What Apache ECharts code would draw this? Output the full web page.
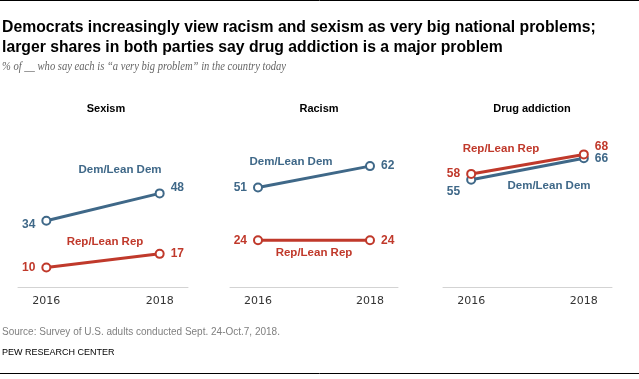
<!DOCTYPE html>
<html>
<head>
<meta charset="utf-8">
<script src="https://cdn.jsdelivr.net/npm/echarts@6/dist/echarts.min.js"></script>
<style>html,body{margin:0;padding:0;background:#fff}#c{width:639px;height:379px}</style>
</head>
<body>
<div id="c"></div>
<script>
const years = [2016, 2018];
const panelTitles = ['Sexism', 'Racism', 'Drug addiction'];
const demSexism = [34, 48];
const repSexism = [10, 17];
const demRacism = [51, 62];
const repRacism = [24, 24];
const demDrug = [55, 66];
const repDrug = [58, 68];
const demName = 'Dem/Lean Dem';
const repName = 'Rep/Lean Rep';

const DEM = '#3f6888';
const REP = '#c0392b';

const panels = [
  {dem: demSexism, rep: repSexism, demNudge: [[0, 4], [0, -6]], repNudge: [[0, 0], [0, 0]],
   demTxt: [120, 170], repTxt: [105, 242], grid: {left: 18, top: 92, width: 170, height: 195}, title: [106, 109]},
  {dem: demRacism, rep: repRacism, demNudge: [[0, 0], [0, 0]], repNudge: [[0, 0], [0, 0]],
   demTxt: [291, 162], repTxt: [314, 253], grid: {left: 230, top: 92, width: 168, height: 195}, title: [319, 109]},
  {dem: demDrug, rep: repDrug, demNudge: [[0, 12], [0, 0]], repNudge: [[0, 0], [0, -8]],
   demTxt: [549, 186], repTxt: [501, 149], grid: {left: 443, top: 92, width: 169, height: 195}, title: [532, 109]}
];

function mkSeries(vals, nudge, color, idx, name) {
  return {
    type: 'line', name: name, xAxisIndex: idx, yAxisIndex: idx,
    data: years.map((y, i) => ({
      value: [y, vals[i]],
      label: {position: i === 0 ? 'left' : 'right', offset: nudge[i]}
    })),
    symbol: 'emptyCircle', symbolSize: 8,
    lineStyle: {width: 3, color: color},
    itemStyle: {color: color, borderWidth: 2},
    label: {show: true, distance: 6, color: color, fontWeight: 'bold', fontSize: 12, fontFamily: 'Liberation Sans'},
    emphasis: {disabled: true}, silent: true, animation: false
  };
}

const series = [];
const graphics = [];
panels.forEach((p, i) => {
  series.push(mkSeries(p.dem, p.demNudge, DEM, i, demName));
  series.push(mkSeries(p.rep, p.repNudge, REP, i, repName));
  graphics.push({type: 'text', x: p.title[0], y: p.title[1], style: {text: panelTitles[i], fill: '#000', font: 'bold 11px "Liberation Sans"', textAlign: 'center', textVerticalAlign: 'middle', align: 'center', verticalAlign: 'middle'}});
  graphics.push({type: 'text', x: p.demTxt[0], y: p.demTxt[1], style: {text: demName, fill: DEM, font: 'bold 11.5px "Liberation Sans"', textAlign: 'center', textVerticalAlign: 'middle', align: 'center', verticalAlign: 'middle'}});
  graphics.push({type: 'text', x: p.repTxt[0], y: p.repTxt[1], style: {text: repName, fill: REP, font: 'bold 11.5px "Liberation Sans"', textAlign: 'center', textVerticalAlign: 'middle', align: 'center', verticalAlign: 'middle'}});
});

const txt = (text, x, y, font, fill, sx) => ({type: 'text', x: x, y: y, scaleX: sx || 1, style: {text: text, font: font, fill: fill, textAlign: 'left', textVerticalAlign: 'middle', align: 'left', verticalAlign: 'middle'}});
graphics.push({type: 'line', shape: {x1: 0, y1: 0.5, x2: 639, y2: 0.5}, style: {stroke: '#000', lineWidth: 1}});
graphics.push({type: 'line', shape: {x1: 0, y1: 373.5, x2: 639, y2: 373.5}, style: {stroke: '#000', lineWidth: 1}});
graphics.push(txt('Democrats increasingly view racism and sexism as very big national problems;', 2, 27, 'bold 16.5px "Liberation Sans"', '#000', 0.955));
graphics.push(txt('larger shares in both parties say drug addiction is a major problem', 2, 47, 'bold 16.5px "Liberation Sans"', '#000', 0.955));
graphics.push(txt('% of __ who say each is \u201ca very big problem\u201d in the country today', 2, 67, 'italic 11.5px "Liberation Serif"', '#666', 0.92));
graphics.push(txt('Source: Survey of U.S. adults conducted Sept. 24-Oct.7, 2018.', 2, 332, '10px "Liberation Sans"', '#808080'));
graphics.push(txt('PEW RESEARCH CENTER', 2, 353, '9px "Liberation Sans"', '#000'));

const chart = echarts.init(document.getElementById('c'), null, {renderer: 'canvas'});
chart.setOption({
  animation: false,
  grid: panels.map(p => p.grid),
  xAxis: panels.map((p, i) => ({
    type: 'value', gridIndex: i, min: 2015.5, max: 2018.5,
    axisLine: {show: true, lineStyle: {color: '#d3d3d3', width: 1}},
    axisTick: {show: false}, splitLine: {show: false},
    axisLabel: {customValues: years, formatter: v => String(v), color: '#333', fontSize: 11, fontFamily: 'DejaVu Sans', margin: 9}
  })),
  yAxis: panels.map((p, i) => ({type: 'value', gridIndex: i, min: 0, max: 100, show: false})),
  series: series,
  graphic: graphics
});
</script>
</body>
</html>
